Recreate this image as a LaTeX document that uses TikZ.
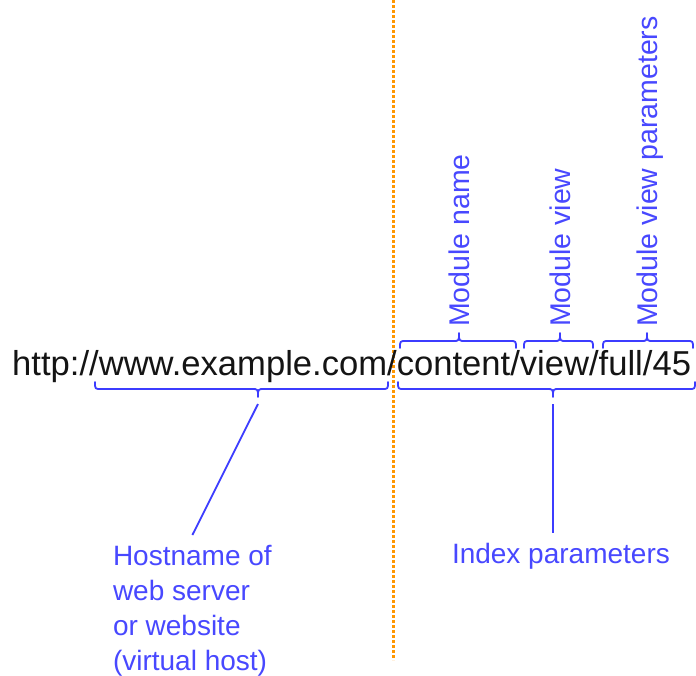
\documentclass[tikz,border=0pt]{standalone}
\usepackage{fontspec}
\setmainfont{Liberation Sans}
\definecolor{lblue}{RGB}{72,72,255}
\definecolor{bblue}{RGB}{60,60,255}
\definecolor{dorange}{RGB}{255,150,0}
\definecolor{urlgray}{RGB}{20,20,20}
\tikzset{
  bracepath/.style={draw=bblue, line width=1.8pt, line cap=round, line join=round},
  lbl/.style={text=lblue, font=\fontsize{28}{35}\selectfont, inner sep=0pt, outer xsep=0pt, outer ysep=10pt, align=left, anchor=north west},
  vlbl/.style={text=lblue, font=\fontsize{28.5}{34}\selectfont, inner sep=0pt, rotate=90, anchor=base west},
  lead/.style={draw=bblue, line width=1.8pt}
}
\begin{document}
\begin{tikzpicture}[x=1pt,y=-1pt]
\useasboundingbox (0,0) rectangle (696,675);
\fill[white] (0,0) rectangle (696,675);
% divider
\draw[dorange, line width=3pt, dash pattern=on 3pt off 2pt] (393,0) -- (393,660);
% url
\node[text=urlgray, font=\fontsize{34.6}{40}\selectfont, inner sep=0pt, anchor=base west] (url) at (12,375) {http://www.example.com/content/view/full/45};
% bottom braces
\draw[bracepath] (95,382) .. controls (95,389) .. (101,389) -- (252,389) .. controls (258,389) .. (258,397) .. controls (258,389) .. (264,389) -- (382,389) .. controls (388,389) .. (388,382);
\coordinate (tip1) at (258,404);
\draw[bracepath] (398,382) .. controls (398,389) .. (404,389) -- (547,389) .. controls (553,389) .. (553,397) .. controls (553,389) .. (559,389) -- (689,389) .. controls (695,389) .. (695,382);
\coordinate (tip2) at (553,404);
% top braces
\draw[bracepath] (400,348) .. controls (400,341) .. (406,341) -- (453,341) .. controls (459,341) .. (459,333) .. controls (459,341) .. (465,341) -- (510,341) .. controls (516,341) .. (516,348);
\draw[bracepath] (524,348) .. controls (524,341) .. (530,341) -- (554,341) .. controls (560,341) .. (560,333) .. controls (560,341) .. (566,341) -- (587,341) .. controls (593,341) .. (593,348);
\draw[bracepath] (603,348) .. controls (603,341) .. (609,341) -- (641,341) .. controls (647,341) .. (647,333) .. controls (647,341) .. (653,341) -- (687,341) .. controls (693,341) .. (693,348);
% rotated labels
\node[vlbl] (mname) at (469.5,327) {Module name};
\node[vlbl] (mview) at (570.5,327) {Module view};
\node[vlbl] (mparams) at (657.5,327) {Module view parameters};
% bottom labels
\node[lbl] (host) at (113,535) {Hostname of\\web server\\or website\\(virtual host)};
\node[lbl] (idx) at (452,533) {Index parameters};
\draw[lead] (tip1) -- (host.north);
\draw[lead] (tip2) -- (tip2 |- idx.north);
\end{tikzpicture}
\end{document}
